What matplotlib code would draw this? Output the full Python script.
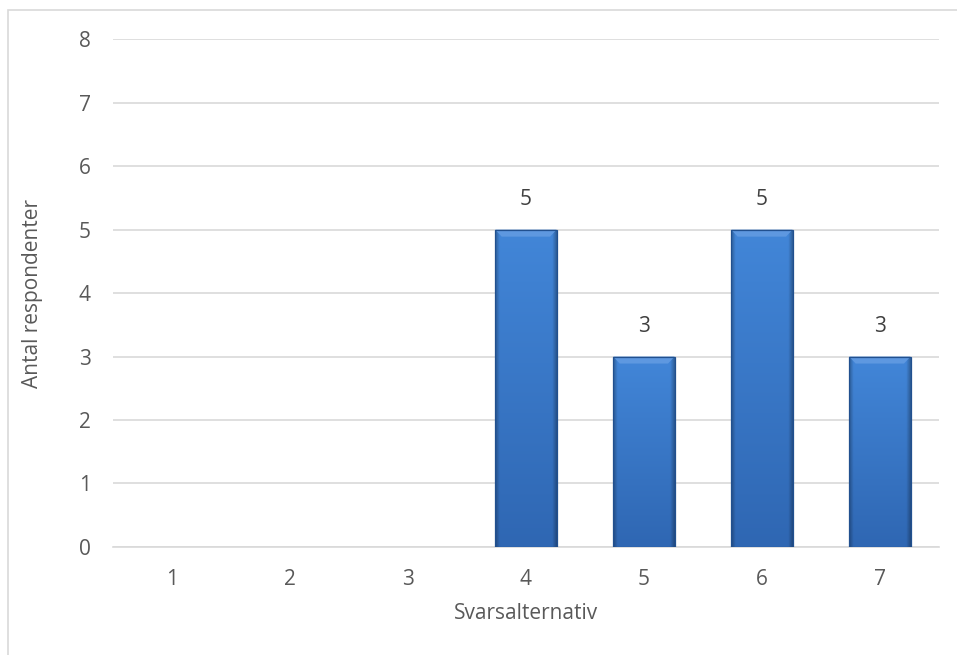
import matplotlib.pyplot as plt
import numpy as np
from matplotlib.patches import Rectangle, Polygon
from matplotlib.colors import to_rgb

# Svarsfördelning
svar = ['1', '2', '3', '4', '5', '6', '7']
antal = [0, 0, 0, 5, 3, 5, 3]

plt.rcParams['font.family'] = ['Open Sans', 'DejaVu Sans']
grey_text = '#595959'
fs = 15

fig = plt.figure(figsize=(9.57, 6.55), dpi=100)
ax = fig.add_axes([0.118, 0.165, 0.863, 0.775])

# ram runt diagrammet
fig.patches.append(Rectangle((8 / 957, -0.1), 1.2, (655 - 10) / 655 + 0.1,
                             transform=fig.transFigure, fill=False,
                             edgecolor='#d9d9d9', linewidth=1.2))

x = np.arange(len(svar))
bars = ax.bar(x, antal, width=0.52, color='#3b7dd0', edgecolor='none', zorder=3)

# färgtoning: ljusare upptill, mörkare kanter
top_c = np.array(to_rgb('#4286d8'))
bot_c = np.array(to_rgb('#2f67b3'))
t = np.linspace(0, 1, 64)[:, None, None]
cols = np.linspace(0, 1, 60)
edge = np.clip(np.minimum(cols, 1 - cols) / 0.07, 0, 1)
shade = (0.72 + 0.28 * edge)[None, :, None]
img = (top_c * (1 - t) + bot_c * t) * shade

for b in bars:
    h = b.get_height()
    if h == 0:
        continue
    x0, w = b.get_x(), b.get_width()
    im = ax.imshow(img, extent=[x0, x0 + w, 0, h], aspect='auto',
                   interpolation='bilinear', zorder=3.5)
    im.set_clip_path(b)
    d = 0.055
    dy = 0.11
    ax.add_patch(Polygon([[x0, h], [x0 + w, h], [x0 + w - d, h - dy], [x0 + d, h - dy]],
                         closed=True, facecolor='#5e98e0', edgecolor='none', zorder=4))
    ax.add_patch(Rectangle((x0, 0), w, h, fill=False, edgecolor='#21508f',
                           linewidth=0.9, zorder=4.5))
    ax.annotate(str(int(h)), (x0 + w / 2, h), xytext=(0, 14), textcoords='offset points',
                ha='center', va='bottom', fontsize=fs, color='#404040')

ax.set_xlim(-0.5, len(svar) - 0.5)
ax.set_ylim(0, 8)
ax.set_yticks(range(0, 9))
ax.set_xticks(x)
ax.set_xticklabels(svar)
ax.yaxis.grid(True, color='#d9d9d9', linewidth=1.2, zorder=0)
ax.set_axisbelow(True)

for s in ['top', 'right', 'left']:
    ax.spines[s].set_visible(False)
ax.spines['bottom'].set_color('#d9d9d9')
ax.spines['bottom'].set_linewidth(1.2)

ax.tick_params(axis='both', length=0, labelsize=fs, colors=grey_text)
ax.tick_params(axis='y', pad=16)
ax.tick_params(axis='x', pad=16)

ax.set_xlabel('Svarsalternativ', fontsize=fs, color=grey_text)
ax.set_ylabel('Antal respondenter', fontsize=fs, color=grey_text)
ax.xaxis.set_label_coords(0.5, -0.11)
ax.yaxis.set_label_coords(-0.085, 0.5)

fig.savefig('out.png', dpi=100)
